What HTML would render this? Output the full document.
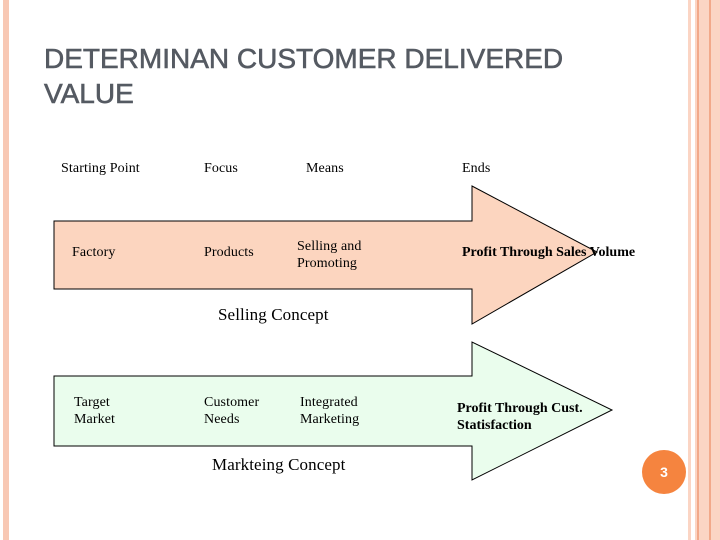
<!DOCTYPE html>
<html><head><style>
body{margin:0;width:720px;height:540px;background:#fff;position:relative;overflow:hidden;font-family:"Liberation Serif",serif;}
.t{position:absolute;font-size:14px;color:#000;line-height:17px;letter-spacing:0.1px;}
.b{font-weight:bold;letter-spacing:0;}
</style></head><body>
<div style="position:absolute;left:3px;top:0;width:6px;height:540px;background:#f8c8b4"></div>
<div style="position:absolute;left:688px;top:0;width:32px;height:540px;background:#fbd5c4"></div>
<div style="position:absolute;left:691px;top:0;width:4px;height:540px;background:#fff"></div>
<div style="position:absolute;left:697px;top:0;width:2px;height:540px;background:#f2a98a"></div>
<div style="position:absolute;left:709px;top:0;width:2px;height:540px;background:#f2a98a"></div>
<div style="position:absolute;left:44px;top:41px;font-family:'Liberation Sans',sans-serif;font-size:28px;line-height:35px;color:#555a62;-webkit-text-stroke:0.6px #555a62;">DETERMINAN CUSTOMER DELIVERED<br>VALUE</div>
<svg width="720" height="540" style="position:absolute;left:0;top:0">
<polygon points="54,221 472,221 472,186 597,252 472,324 472,289 54,289" fill="#fcd5bf" stroke="#000" stroke-width="1"/>
<polygon points="54,376 472,376 472,342 612,410 472,480 472,446 54,446" fill="#eafded" stroke="#000" stroke-width="1"/>
<circle cx="664" cy="472" r="22" fill="#f5843f"/>
<text x="664" y="477" font-family="Liberation Sans" font-size="14" font-weight="bold" fill="#fff" text-anchor="middle">3</text>
</svg>
<div class="t" style="left:61px;top:160px">Starting Point</div>
<div class="t" style="left:204px;top:160px">Focus</div>
<div class="t" style="left:306px;top:160px">Means</div>
<div class="t" style="left:462px;top:160px">Ends</div>
<div class="t" style="left:72px;top:244px">Factory</div>
<div class="t" style="left:204px;top:244px">Products</div>
<div class="t" style="left:297px;top:238px">Selling and<br>Promoting</div>
<div class="t b" style="left:462px;top:244px;font-size:14px">Profit Through Sales Volume</div>
<div class="t" style="left:218px;top:306px;font-size:17px">Selling Concept</div>
<div class="t" style="left:74px;top:394px">Target<br>Market</div>
<div class="t" style="left:204px;top:394px">Customer<br>Needs</div>
<div class="t" style="left:300px;top:394px">Integrated<br>Marketing</div>
<div class="t b" style="left:457px;top:400px;font-size:14px">Profit Through Cust.<br>Statisfaction</div>
<div class="t" style="left:212px;top:456px;font-size:17px">Markteing Concept</div>
</body></html>
